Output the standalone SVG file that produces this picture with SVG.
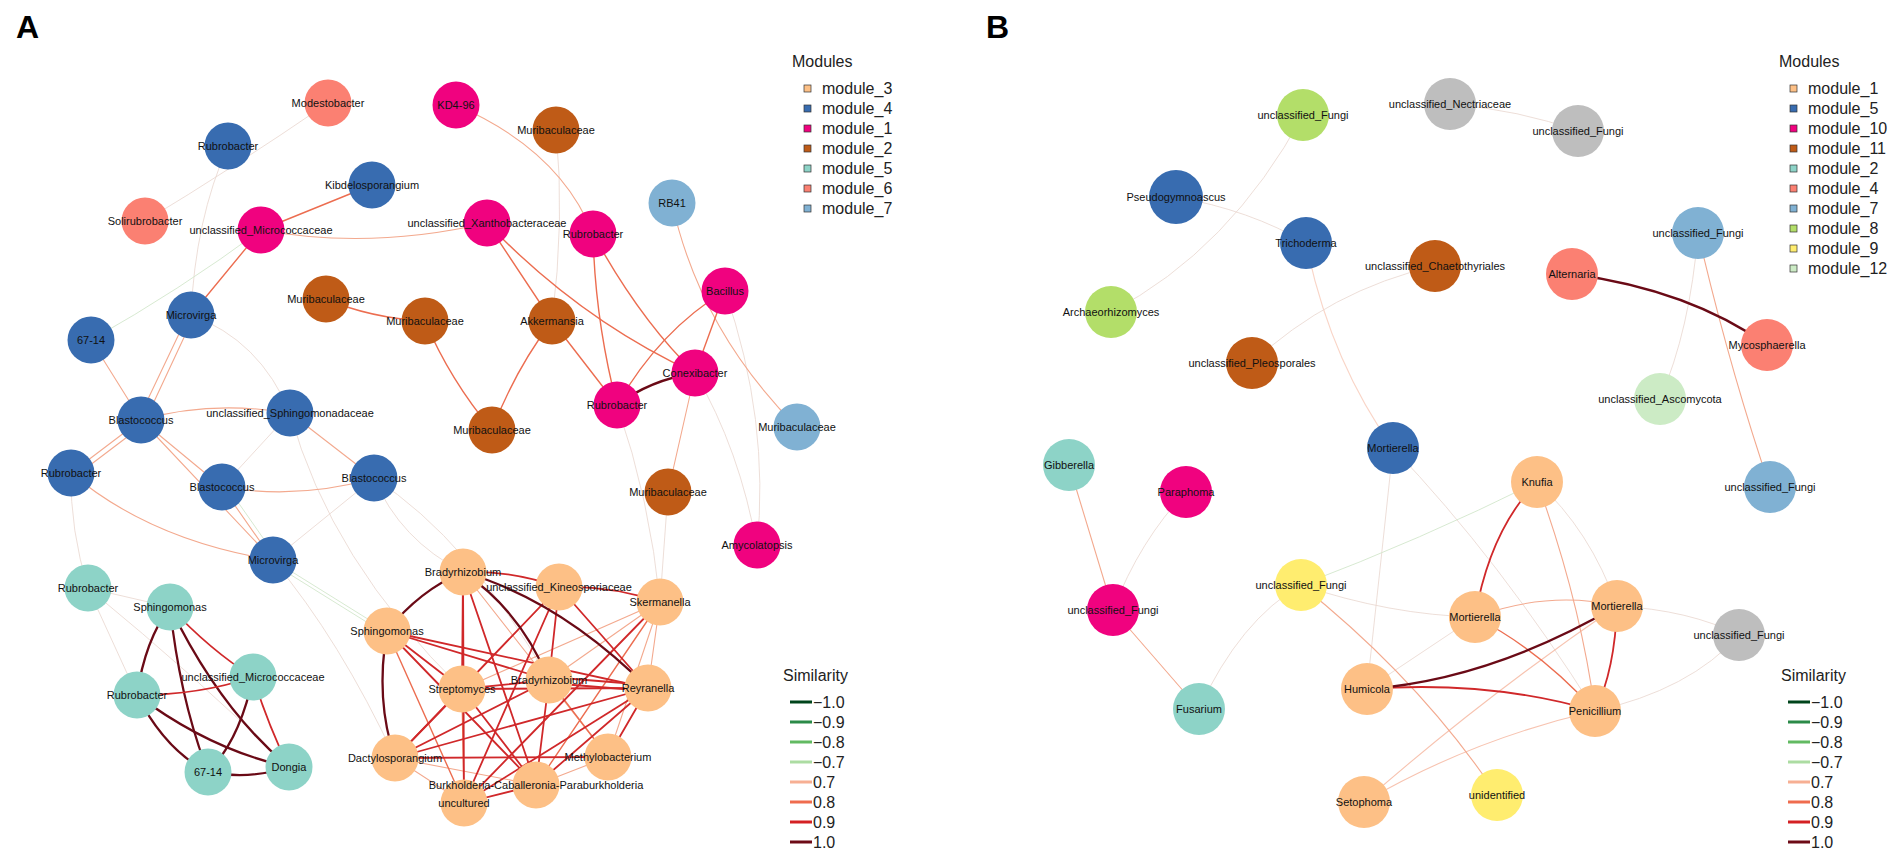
<svg xmlns="http://www.w3.org/2000/svg" width="1901" height="856" viewBox="0 0 1901 856">
<style>
.t{font-family:"Liberation Sans",Arial,sans-serif;fill:#111;font-size:11px;text-anchor:middle}
.pl{font-family:"Liberation Sans",Arial,sans-serif;font-weight:bold;font-size:32px;fill:#000}
.lg{font-family:"Liberation Sans",Arial,sans-serif;font-size:16px;fill:#222}
.ef,.eg,.e7,.e8,.e9,.e10{fill:none;stroke-linecap:round}
.ef{stroke:#e8d6ce;stroke-width:0.8}
.eg{stroke:#d3e6cc;stroke-width:0.9}
.e7{stroke:#f3a98e;stroke-width:1.1}
.e8{stroke:#ec6d50;stroke-width:1.4}
.e9{stroke:#d0282a;stroke-width:1.8}
.e10{stroke:#6a0a16;stroke-width:2.3}
.o{fill:#fdc086}.b{fill:#386cb0}.p{fill:#f0027f}.br{fill:#bf5b17}.tq{fill:#8dd3c7}.s{fill:#fb8072}.lb{fill:#80b1d3}.g{fill:#b3de69}.y{fill:#ffed6f}.pg{fill:#ccebc5}.gr{fill:#bebebe}
.sq{stroke:#333;stroke-width:0.7}
</style>
<rect width="1901" height="856" fill="#fff"/>
<text class="pl" x="16" y="38">A</text>
<text class="pl" x="986" y="38">B</text>

<g id="connectors">
<!-- Panel A faint -->
<path class="ef" d="M328,103 Q230,170 145,221"/>
<path class="ef" d="M228,146 Q195,220 191,315"/>
<path class="eg" d="M91,340 Q180,290 261,230"/>
<path class="ef" d="M556,130 Q565,220 552,321"/>
<path class="ef" d="M71,473 Q70,530 88,588"/>
<path class="ef" d="M191,315 Q260,340 290,413"/>
<path class="ef" d="M290,413 L222,487"/>
<path class="ef" d="M374,478 L273,560"/>
<path class="ef" d="M290,413 Q330,560 462,689"/>
<path class="ef" d="M374,478 Q400,540 463,572"/>
<path class="ef" d="M273,560 Q340,640 395,758"/>
<path class="ef" d="M374,478 Q470,540 549,680"/>
<path class="ef" d="M695,373 Q740,450 757,547"/>
<path class="ef" d="M725,291 Q770,420 757,547"/>
<path class="ef" d="M668,492 L660,602"/>
<path class="e7" d="M695,373 L668,492"/>
<path class="ef" d="M617,405 Q650,500 660,602"/>
<path class="ef" d="M88,588 L137,695"/>
<path class="ef" d="M88,588 Q200,680 289,767"/>
<path class="ef" d="M88,588 L170,607"/>
<path class="eg" d="M226,485 L277,558"/>
<path class="eg" d="M273,560 L387,631"/>
<path class="eg" d="M275,565 L389,636"/>
<!-- Panel A light/orange -->
<path class="e7" d="M261,230 Q370,250 487,223"/>
<path class="e7" d="M456,105 Q560,150 593,234"/>
<path class="e7" d="M141,420 Q210,400 290,413"/>
<path class="e7" d="M71,473 Q150,540 273,560"/>
<path class="e7" d="M672,203 Q700,330 797,427"/>
<path class="e8" d="M261,230 L372,185"/>
<path class="e8" d="M261,230 L191,315"/>
<path class="e8" d="M326,299 Q370,318 425,321"/>
<path class="e8" d="M425,321 Q450,380 492,430"/>
<path class="e8" d="M552,321 Q515,370 492,430"/>
<path class="e8" d="M487,223 L552,321"/>
<path class="e8" d="M487,223 Q580,320 695,373"/>
<path class="e8" d="M593,234 Q595,320 617,405"/>
<path class="e8" d="M593,234 Q640,320 695,373"/>
<path class="e8" d="M725,291 Q660,330 617,405"/>
<path class="e8" d="M725,291 L695,373"/>
<path class="e8" d="M552,321 L617,405"/>
<path class="e10" d="M617,405 Q650,380 695,373"/>
<path class="e7" d="M91,340 L141,420"/>
<path class="e7" d="M188,315 L138,420"/>
<path class="e7" d="M194,316 L145,421"/>
<path class="e7" d="M141,420 L71,473"/>
<path class="e7" d="M143,425 L73,478"/>
<path class="e7" d="M141,420 L222,487"/>
<path class="e7" d="M141,420 L273,560"/>
<path class="e7" d="M290,413 L374,478"/>
<path class="e7" d="M222,487 Q300,500 374,478"/>
<path class="e7" d="M222,487 L273,560"/>
<!-- Panel A teal cluster -->
<path class="e10" d="M170,607 Q145,640 137,695"/>
<path class="e10" d="M170,607 Q180,700 208,772"/>
<path class="e10" d="M170,607 Q220,710 289,767"/>
<path class="e9" d="M170,607 Q210,650 253,677"/>
<path class="e9" d="M137,695 Q200,695 253,677"/>
<path class="e10" d="M137,695 Q165,750 208,772"/>
<path class="e10" d="M137,695 Q210,750 289,767"/>
<path class="e10" d="M253,677 Q240,740 208,772"/>
<path class="e9" d="M253,677 Q270,730 289,767"/>
<path class="e10" d="M208,772 Q250,780 289,767"/>
<!-- Panel A orange cluster -->
<path class="e7" d="M660,602 L648,688"/>
<path class="e7" d="M660,602 L608,757"/>
<path class="e7" d="M608,757 L536,785"/>
<path class="e7" d="M395,758 L464,803"/>
<path class="e7" d="M660,602 L462,689"/>
<path class="e7" d="M559,587 L462,689"/>
<path class="e7" d="M660,602 L549,680"/>
<path class="e7" d="M395,758 L536,785"/>
<path class="e7" d="M463,572 L608,757"/>
<path class="e8" d="M660,602 L536,785"/>
<path class="e8" d="M387,631 L464,803"/>
<path class="e8" d="M549,680 L608,757"/>
<path class="e8" d="M462,689 L464,803"/>
<path class="e9" d="M463,572 Q510,570 559,587"/>
<path class="e9" d="M559,587 Q610,585 660,602"/>
<path class="e9" d="M559,587 L648,688"/>
<path class="e9" d="M559,587 L549,680"/>
<path class="e9" d="M559,587 L464,803"/>
<path class="e9" d="M559,587 L395,758"/>
<path class="e9" d="M387,631 L549,680"/>
<path class="e9" d="M387,631 L648,688"/>
<path class="e9" d="M387,631 L462,689"/>
<path class="e9" d="M387,631 L536,785"/>
<path class="e9" d="M462,689 L549,680"/>
<path class="e9" d="M462,689 L648,688"/>
<path class="e9" d="M462,689 L395,758"/>
<path class="e9" d="M462,689 L536,785"/>
<path class="e9" d="M549,677 L648,685"/>
<path class="e9" d="M549,683 L648,691"/>
<path class="e9" d="M549,680 L536,785"/>
<path class="e9" d="M549,680 L395,758"/>
<path class="e9" d="M648,688 L608,757"/>
<path class="e9" d="M648,688 L536,785"/>
<path class="e9" d="M648,688 L464,803"/>
<path class="e9" d="M395,758 L608,757"/>
<path class="e9" d="M536,785 L464,803"/>
<path class="e9" d="M463,572 L462,689"/>
<path class="e9" d="M463,572 L536,785"/>
<path class="e9" d="M463,572 L464,803"/>
<path class="e9" d="M660,602 L464,803"/>
<path class="e9" d="M648,688 L395,758"/>
<path class="e10" d="M463,572 Q420,590 387,631"/>
<path class="e10" d="M463,572 Q520,610 549,680"/>
<path class="e10" d="M463,572 Q560,600 648,688"/>
<path class="e10" d="M387,631 Q375,700 395,758"/>
<!-- Panel B -->
<path class="ef" d="M1303,115 Q1230,250 1111,312"/>
<path class="ef" d="M1176,197 Q1250,210 1306,243"/>
<path class="ef" d="M1450,104 Q1520,110 1578,131"/>
<path class="e7" d="M1306,243 Q1330,360 1393,448" opacity="0.5"/>
<path class="ef" d="M1435,266 Q1330,290 1252,363"/>
<path class="ef" d="M1698,233 Q1690,330 1660,399"/>
<path class="ef" d="M1186,492 Q1140,540 1113,610"/>
<path class="ef" d="M1199,709 Q1240,620 1301,585"/>
<path class="ef" d="M1301,585 Q1390,615 1475,617"/>
<path class="ef" d="M1393,448 Q1380,570 1367,689"/>
<path class="ef" d="M1393,448 Q1500,560 1595,711"/>
<path class="ef" d="M1537,482 Q1590,530 1617,606"/>
<path class="ef" d="M1617,606 Q1690,610 1739,635"/>
<path class="ef" d="M1595,711 Q1690,690 1739,635"/>
<path class="ef" d="M1475,617 L1367,689"/>
<path class="e7" d="M1617,606 Q1480,700 1364,802" opacity="0.7"/>
<path class="e7" d="M1595,711 Q1470,740 1364,802" opacity="0.7"/>
<path class="eg" d="M1301,585 Q1420,540 1537,482"/>
<path class="e7" d="M1069,465 L1113,610"/>
<path class="e7" d="M1113,610 L1199,709"/>
<path class="e7" d="M1698,233 Q1730,370 1770,487"/>
<path class="e7" d="M1301,585 Q1420,680 1497,795"/>
<path class="e7" d="M1537,482 Q1580,600 1595,711"/>
<path class="e7" d="M1475,617 Q1550,590 1617,606"/>
<path class="e8" d="M1475,617 Q1540,650 1595,711"/>
<path class="e9" d="M1537,482 Q1490,530 1475,617"/>
<path class="e9" d="M1617,606 Q1615,670 1595,711"/>
<path class="e9" d="M1367,689 Q1490,680 1595,711"/>
<path class="e10" d="M1572,274 Q1690,290 1767,345"/>
<path class="e10" d="M1617,606 Q1490,680 1367,689"/>
</g>

<!-- Panel A nodes -->
<g id="a_modestobacter"><circle class="s" cx="328" cy="103" r="23.5"/><text class="t" x="328" y="107">Modestobacter</text></g>
<g id="a_kd4_96"><circle class="p" cx="456" cy="105" r="23.5"/><text class="t" x="456" y="109">KD4-96</text></g>
<g id="a_muribaculaceae_1"><circle class="br" cx="556" cy="130" r="23.5"/><text class="t" x="556" y="134">Muribaculaceae</text></g>
<g id="a_rubrobacter_1"><circle class="b" cx="228" cy="146" r="23.5"/><text class="t" x="228" y="150">Rubrobacter</text></g>
<g id="a_kibdelosporangium"><circle class="b" cx="372" cy="185" r="23.5"/><text class="t" x="372" y="189">Kibdelosporangium</text></g>
<g id="a_rb41"><circle class="lb" cx="672" cy="203" r="23.5"/><text class="t" x="672" y="207">RB41</text></g>
<g id="a_solirubrobacter"><circle class="s" cx="145" cy="221" r="23.5"/><text class="t" x="145" y="225">Solirubrobacter</text></g>
<g id="a_rubrobacter_2"><circle class="p" cx="593" cy="234" r="23.5"/><text class="t" x="593" y="238">Rubrobacter</text></g>
<g id="a_bacillus"><circle class="p" cx="725" cy="291" r="23.5"/><text class="t" x="725" y="295">Bacillus</text></g>
<g id="a_muribaculaceae_2"><circle class="br" cx="326" cy="299" r="23.5"/><text class="t" x="326" y="303">Muribaculaceae</text></g>
<g id="a_akkermansia"><circle class="br" cx="552" cy="321" r="23.5"/><text class="t" x="552" y="325">Akkermansia</text></g>
<g id="a_muribaculaceae_3"><circle class="br" cx="425" cy="321" r="23.5"/><text class="t" x="425" y="325">Muribaculaceae</text></g>
<g id="a_microvirga_1"><circle class="b" cx="191" cy="315" r="23.5"/><text class="t" x="191" y="319">Microvirga</text></g>
<g id="a_67_14_1"><circle class="b" cx="91" cy="340" r="23.5"/><text class="t" x="91" y="344">67-14</text></g>
<g id="a_rubrobacter_3"><circle class="p" cx="617" cy="405" r="23.5"/><text class="t" x="617" y="409">Rubrobacter</text></g>
<g id="a_conexibacter"><circle class="p" cx="695" cy="373" r="23.5"/><text class="t" x="695" y="377">Conexibacter</text></g>
<g id="a_blastococcus_1"><circle class="b" cx="141" cy="420" r="23.5"/><text class="t" x="141" y="424">Blastococcus</text></g>
<g id="a_muribaculaceae_4"><circle class="br" cx="492" cy="430" r="23.5"/><text class="t" x="492" y="434">Muribaculaceae</text></g>
<g id="a_muribaculaceae_7"><circle class="lb" cx="797" cy="427" r="23.5"/><text class="t" x="797" y="431">Muribaculaceae</text></g>
<g id="a_rubrobacter_4"><circle class="b" cx="71" cy="473" r="23.5"/><text class="t" x="71" y="477">Rubrobacter</text></g>
<g id="a_blastococcus_2"><circle class="b" cx="222" cy="487" r="23.5"/><text class="t" x="222" y="491">Blastococcus</text></g>
<g id="a_blastococcus_3"><circle class="b" cx="374" cy="478" r="23.5"/><text class="t" x="374" y="482">Blastococcus</text></g>
<g id="a_muribaculaceae_5"><circle class="br" cx="668" cy="492" r="23.5"/><text class="t" x="668" y="496">Muribaculaceae</text></g>
<g id="a_amycolatopsis"><circle class="p" cx="757" cy="545" r="23.5"/><text class="t" x="757" y="549">Amycolatopsis</text></g>
<g id="a_microvirga_2"><circle class="b" cx="273" cy="560" r="23.5"/><text class="t" x="273" y="564">Microvirga</text></g>
<g id="a_rubrobacter_5"><circle class="tq" cx="88" cy="588" r="23.5"/><text class="t" x="88" y="592">Rubrobacter</text></g>
<g id="a_sphingomonas_1"><circle class="tq" cx="170" cy="607" r="23.5"/><text class="t" x="170" y="611">Sphingomonas</text></g>
<g id="a_rubrobacter_6"><circle class="tq" cx="137" cy="695" r="23.5"/><text class="t" x="137" y="699">Rubrobacter</text></g>
<g id="a_67_14_2"><circle class="tq" cx="208" cy="772" r="23.5"/><text class="t" x="208" y="776">67-14</text></g>
<g id="a_dongia"><circle class="tq" cx="289" cy="767" r="23.5"/><text class="t" x="289" y="771">Dongia</text></g>
<g id="a_bradyrhizobium_1"><circle class="o" cx="463" cy="572" r="23.5"/><text class="t" x="463" y="576">Bradyrhizobium</text></g>
<g id="a_skermanella"><circle class="o" cx="660" cy="602" r="23.5"/><text class="t" x="660" y="606">Skermanella</text></g>
<g id="a_sphingomonas_2"><circle class="o" cx="387" cy="631" r="23.5"/><text class="t" x="387" y="635">Sphingomonas</text></g>
<g id="a_streptomyces"><circle class="o" cx="462" cy="689" r="23.5"/><text class="t" x="462" y="693">Streptomyces</text></g>
<g id="a_bradyrhizobium_2"><circle class="o" cx="549" cy="680" r="23.5"/><text class="t" x="549" y="684">Bradyrhizobium</text></g>
<g id="a_reyranella"><circle class="o" cx="648" cy="688" r="23.5"/><text class="t" x="648" y="692">Reyranella</text></g>
<g id="a_dactylosporangium"><circle class="o" cx="395" cy="758" r="23.5"/><text class="t" x="395" y="762">Dactylosporangium</text></g>
<g id="a_methylobacterium"><circle class="o" cx="608" cy="757" r="23.5"/><text class="t" x="608" y="761">Methylobacterium</text></g>
<g id="a_uncultured"><circle class="o" cx="464" cy="803" r="23.5"/><text class="t" x="464" y="807">uncultured</text></g>
<g id="a_burkholderia"><circle class="o" cx="536" cy="785" r="23.5"/><text class="t" x="536" y="789">Burkholderia-Caballeronia-Paraburkholderia</text></g>
<g id="a_unclassified_kineosporiaceae"><circle class="o" cx="559" cy="587" r="23.5"/><text class="t" x="559" y="591">unclassified_Kineosporiaceae</text></g>
<g id="a_unclassified_micrococcaceae_2"><circle class="tq" cx="253" cy="677" r="23.5"/><text class="t" x="253" y="681">unclassified_Micrococcaceae</text></g>
<g id="a_unclassified_sphingomonadaceae"><circle class="b" cx="290" cy="413" r="23.5"/><text class="t" x="290" y="417">unclassified_Sphingomonadaceae</text></g>
<g id="a_unclassified_micrococcaceae_1"><circle class="p" cx="261" cy="230" r="23.5"/><text class="t" x="261" y="234">unclassified_Micrococcaceae</text></g>
<g id="a_unclassified_xanthobacteraceae"><circle class="p" cx="487" cy="223" r="23.5"/><text class="t" x="487" y="227">unclassified_Xanthobacteraceae</text></g>

<!-- Panel B nodes -->
<g id="b_unclassified_fungi_green"><circle class="g" cx="1303" cy="115" r="26"/><text class="t" x="1303" y="119">unclassified_Fungi</text></g>
<g id="b_unclassified_nectriaceae"><circle class="gr" cx="1450" cy="104" r="26"/><text class="t" x="1450" y="108">unclassified_Nectriaceae</text></g>
<g id="b_unclassified_fungi_gray1"><circle class="gr" cx="1578" cy="131" r="26"/><text class="t" x="1578" y="135">unclassified_Fungi</text></g>
<g id="b_pseudogymnoascus"><circle class="b" cx="1176" cy="197" r="27"/><text class="t" x="1176" y="201">Pseudogymnoascus</text></g>
<g id="b_trichoderma"><circle class="b" cx="1306" cy="243" r="26"/><text class="t" x="1306" y="247">Trichoderma</text></g>
<g id="b_unclassified_chaetothyriales"><circle class="br" cx="1435" cy="266" r="26"/><text class="t" x="1435" y="270">unclassified_Chaetothyriales</text></g>
<g id="b_alternaria"><circle class="s" cx="1572" cy="274" r="26"/><text class="t" x="1572" y="278">Alternaria</text></g>
<g id="b_unclassified_fungi_blue1"><circle class="lb" cx="1698" cy="233" r="26"/><text class="t" x="1698" y="237">unclassified_Fungi</text></g>
<g id="b_archaeorhizomyces"><circle class="g" cx="1111" cy="312" r="26"/><text class="t" x="1111" y="316">Archaeorhizomyces</text></g>
<g id="b_mycosphaerella"><circle class="s" cx="1767" cy="345" r="26"/><text class="t" x="1767" y="349">Mycosphaerella</text></g>
<g id="b_unclassified_pleosporales"><circle class="br" cx="1252" cy="363" r="26"/><text class="t" x="1252" y="367">unclassified_Pleosporales</text></g>
<g id="b_unclassified_ascomycota"><circle class="pg" cx="1660" cy="399" r="26"/><text class="t" x="1660" y="403">unclassified_Ascomycota</text></g>
<g id="b_mortierella_1"><circle class="b" cx="1393" cy="448" r="26"/><text class="t" x="1393" y="452">Mortierella</text></g>
<g id="b_gibberella"><circle class="tq" cx="1069" cy="465" r="26"/><text class="t" x="1069" y="469">Gibberella</text></g>
<g id="b_paraphoma"><circle class="p" cx="1186" cy="492" r="26"/><text class="t" x="1186" y="496">Paraphoma</text></g>
<g id="b_knufia"><circle class="o" cx="1537" cy="482" r="26"/><text class="t" x="1537" y="486">Knufia</text></g>
<g id="b_unclassified_fungi_blue2"><circle class="lb" cx="1770" cy="487" r="26"/><text class="t" x="1770" y="491">unclassified_Fungi</text></g>
<g id="b_unclassified_fungi_yellow"><circle class="y" cx="1301" cy="585" r="26"/><text class="t" x="1301" y="589">unclassified_Fungi</text></g>
<g id="b_unclassified_fungi_pink"><circle class="p" cx="1113" cy="610" r="26"/><text class="t" x="1113" y="614">unclassified_Fungi</text></g>
<g id="b_mortierella_2"><circle class="o" cx="1475" cy="617" r="26"/><text class="t" x="1475" y="621">Mortierella</text></g>
<g id="b_mortierella_3"><circle class="o" cx="1617" cy="606" r="26"/><text class="t" x="1617" y="610">Mortierella</text></g>
<g id="b_unclassified_fungi_gray2"><circle class="gr" cx="1739" cy="635" r="26"/><text class="t" x="1739" y="639">unclassified_Fungi</text></g>
<g id="b_humicola"><circle class="o" cx="1367" cy="689" r="26"/><text class="t" x="1367" y="693">Humicola</text></g>
<g id="b_penicillium"><circle class="o" cx="1595" cy="711" r="26"/><text class="t" x="1595" y="715">Penicillium</text></g>
<g id="b_fusarium"><circle class="tq" cx="1199" cy="709" r="26"/><text class="t" x="1199" y="713">Fusarium</text></g>
<g id="b_setophoma"><circle class="o" cx="1364" cy="802" r="26"/><text class="t" x="1364" y="806">Setophoma</text></g>
<g id="b_unidentified"><circle class="y" cx="1497" cy="795" r="26"/><text class="t" x="1497" y="799">unidentified</text></g>

<!-- Legends A -->
<g id="legend_modules_a">
<text class="lg" x="792" y="67">Modules</text>
<rect class="sq o" x="804" y="85" width="7" height="7"/><text class="lg" x="822" y="94">module_3</text>
<rect class="sq b" x="804" y="105" width="7" height="7"/><text class="lg" x="822" y="114">module_4</text>
<rect class="sq p" x="804" y="125" width="7" height="7"/><text class="lg" x="822" y="134">module_1</text>
<rect class="sq br" x="804" y="145" width="7" height="7"/><text class="lg" x="822" y="154">module_2</text>
<rect class="sq tq" x="804" y="165" width="7" height="7"/><text class="lg" x="822" y="174">module_5</text>
<rect class="sq s" x="804" y="185" width="7" height="7"/><text class="lg" x="822" y="194">module_6</text>
<rect class="sq lb" x="804" y="205" width="7" height="7"/><text class="lg" x="822" y="214">module_7</text>
</g>
<g id="legend_similarity_a">
<text class="lg" x="783" y="681">Similarity</text>
<line x1="790" y1="702" x2="812" y2="702" stroke="#00441b" stroke-width="3"/><text class="lg" x="813" y="708">−1.0</text>
<line x1="790" y1="722" x2="812" y2="722" stroke="#2b8a48" stroke-width="3"/><text class="lg" x="813" y="728">−0.9</text>
<line x1="790" y1="742" x2="812" y2="742" stroke="#62ba62" stroke-width="3"/><text class="lg" x="813" y="748">−0.8</text>
<line x1="790" y1="762" x2="812" y2="762" stroke="#acdca2" stroke-width="3"/><text class="lg" x="813" y="768">−0.7</text>
<line x1="790" y1="782" x2="812" y2="782" stroke="#f7af93" stroke-width="3"/><text class="lg" x="813" y="788">0.7</text>
<line x1="790" y1="802" x2="812" y2="802" stroke="#ef6c4e" stroke-width="3"/><text class="lg" x="813" y="808">0.8</text>
<line x1="790" y1="822" x2="812" y2="822" stroke="#d42023" stroke-width="3"/><text class="lg" x="813" y="828">0.9</text>
<line x1="790" y1="842" x2="812" y2="842" stroke="#6d0a16" stroke-width="3"/><text class="lg" x="813" y="848">1.0</text>
</g>

<!-- Legends B -->
<g id="legend_modules_b">
<text class="lg" x="1779" y="67">Modules</text>
<rect class="sq o" x="1790" y="85" width="7" height="7"/><text class="lg" x="1808" y="94">module_1</text>
<rect class="sq b" x="1790" y="105" width="7" height="7"/><text class="lg" x="1808" y="114">module_5</text>
<rect class="sq p" x="1790" y="125" width="7" height="7"/><text class="lg" x="1808" y="134">module_10</text>
<rect class="sq br" x="1790" y="145" width="7" height="7"/><text class="lg" x="1808" y="154">module_11</text>
<rect class="sq tq" x="1790" y="165" width="7" height="7"/><text class="lg" x="1808" y="174">module_2</text>
<rect class="sq s" x="1790" y="185" width="7" height="7"/><text class="lg" x="1808" y="194">module_4</text>
<rect class="sq lb" x="1790" y="205" width="7" height="7"/><text class="lg" x="1808" y="214">module_7</text>
<rect class="sq g" x="1790" y="225" width="7" height="7"/><text class="lg" x="1808" y="234">module_8</text>
<rect class="sq y" x="1790" y="245" width="7" height="7"/><text class="lg" x="1808" y="254">module_9</text>
<rect class="sq pg" x="1790" y="265" width="7" height="7"/><text class="lg" x="1808" y="274">module_12</text>
</g>
<g id="legend_similarity_b">
<text class="lg" x="1781" y="681">Similarity</text>
<line x1="1788" y1="702" x2="1810" y2="702" stroke="#00441b" stroke-width="3"/><text class="lg" x="1811" y="708">−1.0</text>
<line x1="1788" y1="722" x2="1810" y2="722" stroke="#2b8a48" stroke-width="3"/><text class="lg" x="1811" y="728">−0.9</text>
<line x1="1788" y1="742" x2="1810" y2="742" stroke="#62ba62" stroke-width="3"/><text class="lg" x="1811" y="748">−0.8</text>
<line x1="1788" y1="762" x2="1810" y2="762" stroke="#acdca2" stroke-width="3"/><text class="lg" x="1811" y="768">−0.7</text>
<line x1="1788" y1="782" x2="1810" y2="782" stroke="#f7af93" stroke-width="3"/><text class="lg" x="1811" y="788">0.7</text>
<line x1="1788" y1="802" x2="1810" y2="802" stroke="#ef6c4e" stroke-width="3"/><text class="lg" x="1811" y="808">0.8</text>
<line x1="1788" y1="822" x2="1810" y2="822" stroke="#d42023" stroke-width="3"/><text class="lg" x="1811" y="828">0.9</text>
<line x1="1788" y1="842" x2="1810" y2="842" stroke="#6d0a16" stroke-width="3"/><text class="lg" x="1811" y="848">1.0</text>
</g>
</svg>
